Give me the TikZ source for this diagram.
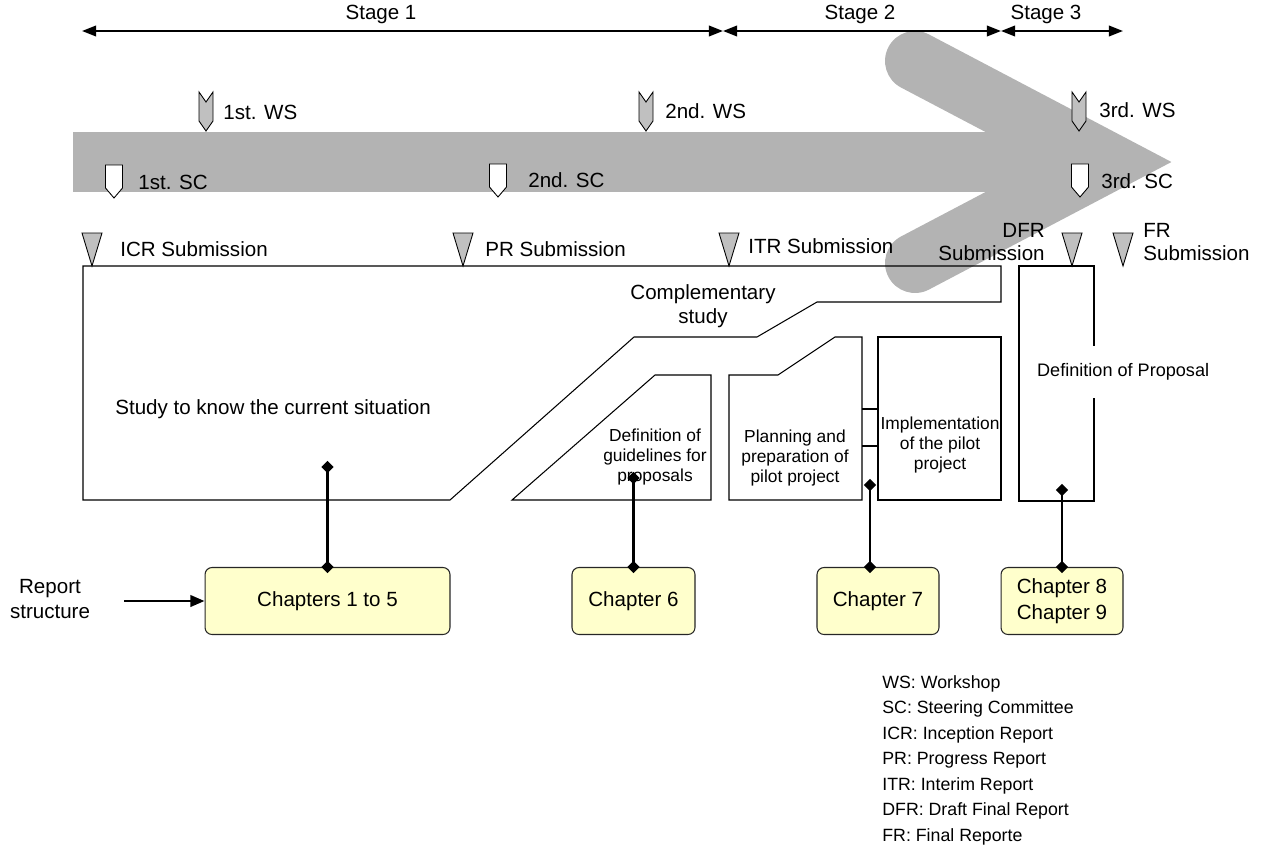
\documentclass[tikz,border=0pt]{standalone}
\usepackage{fontspec}
\setmainfont{Liberation Sans}
\usetikzlibrary{arrows.meta}
\definecolor{bandgrey}{HTML}{B3B3B3}
\definecolor{markgrey}{HTML}{C0C0C0}
\definecolor{chapfill}{HTML}{FFFFCC}

\begin{document}
\begin{tikzpicture}[x=0.02cm,y=-0.02cm,
  lbl/.style={inner sep=0pt, font=\fontsize{11.7}{13.6}\selectfont},
  boxtext/.style={inner sep=0pt, font=\fontsize{9.9}{11.4}\selectfont, align=center},
  outline/.style={draw=black, line width=0.6pt},
  chap/.style={draw=black!85, fill=chapfill, rounded corners=4pt, line width=0.6pt,
    inner sep=0pt, minimum height=1.34cm, font=\fontsize{11.7}{14.7}\selectfont, align=center},
  conn/.style={line width=1.4pt, shorten <=-3.5pt, shorten >=-3.5pt,
    {Turned Square[length=7pt,width=7pt]}-{Turned Square[length=7pt,width=7pt]}},
  stagearr/.style={line width=1.1pt, {Triangle[length=8pt,width=6pt]}-{Triangle[length=8pt,width=6pt]}},
  wsmark/.pic={\draw[fill=markgrey, line width=0.5pt] (-7,0) -- (0,10) -- (7,0) -- (7,29) -- (0,39) -- (-7,29) -- cycle;},
  scmark/.pic={\draw[fill=white, line width=0.5pt] (-8.5,0) -- (8.5,0) -- (8.5,23) -- (0,33) -- (-8.5,23) -- cycle;},
  submark/.pic={\draw[fill=markgrey, line width=0.5pt] (-10,-33) -- (10,-33) -- (0,0) -- cycle;},
  ]
\useasboundingbox (0,0) rectangle (1263,852);

% grey progress arrow in the background: shaft and chevron head
\fill[bandgrey] (73,132) rectangle (1060,192);
\draw[bandgrey, line width=1.2cm, line cap=round, line join=miter] (915,61) -- (1107,162) -- (915,263);

% stage spans
\coordinate (s0) at (82,31);
\coordinate (s1) at (723,31);
\coordinate (s2) at (1001,31);
\coordinate (s3) at (1123,31);
\draw[stagearr] (s0) -- (s1);
\draw[stagearr] (s1) -- (s2);
\draw[stagearr] (s2) -- (s3);
\node[lbl] (stg1) at (381,14) {Stage 1};
\node[lbl] (stg2) at (860,14) {Stage 2};
\node[lbl] (stg3) at (1046,14) {Stage 3};

% workshops
\pic at (206,92) {wsmark};
\pic at (646,92) {wsmark};
\pic at (1079,92) {wsmark};
\node[lbl, anchor=west] (ws1) at (223,112) {1st. WS};
\node[lbl, anchor=west] (ws2) at (665,111) {2nd. WS};
\node[lbl, anchor=west] (ws3) at (1099,110) {3rd. WS};

% steering committees
\pic at (114,165) {scmark};
\pic at (498,164) {scmark};
\pic at (1080,164) {scmark};
\node[lbl, anchor=west] (sc1) at (138,182) {1st. SC};
\node[lbl, anchor=west] (sc2) at (528,180) {2nd. SC};
\node[lbl, anchor=west] (sc3) at (1101,181) {3rd. SC};

% report submissions
\pic at (92,266) {submark};
\pic at (463,266) {submark};
\pic at (729,266) {submark};
\pic at (1072,266) {submark};
\pic at (1123,266) {submark};
\node[lbl, anchor=west] (icr) at (120,249) {ICR Submission};
\node[lbl, anchor=west] (pr) at (485,249) {PR Submission};
\node[lbl, anchor=west] (itr) at (748,246) {ITR Submission};
\node[lbl, anchor=east, align=right] (dfr) at (1045,242) {DFR\\Submission};
\node[lbl, anchor=west, align=left] (fr) at (1143,242) {FR\\Submission};

% activity blocks
\draw[outline] (83,266) -- (1001,266) -- (1001,302) -- (817,302) -- (757,337)
  -- (634,337) -- (450,500) -- (83,500) -- cycle;
\draw[outline] (512,500) -- (655,375) -- (711,375) -- (711,500) -- cycle;
\draw[outline] (729,500) -- (729,375) -- (778,375) -- (835,337) -- (862,337) -- (862,500) -- cycle;
\draw[outline] (878,337) rectangle (1001,500);
\draw[outline] (862,409) -- (878,409) (862,446) -- (878,446);
\draw[outline] (1019,266) rectangle (1094,501);

\node[lbl, anchor=west] (study) at (115,409) {Study to know the current situation};
\node[lbl, align=center] (comp) at (703,306) {Complementary\\study};
\node[boxtext] (guide) at (655,457) {Definition of\\guidelines for\\proposals};
\node[boxtext] (plan) at (795,458) {Planning and\\preparation of\\pilot project};
\node[boxtext] (impl) at (940,445) {Implementation\\of the pilot\\project};
\node[boxtext, anchor=west, fill=white, inner xsep=5pt, minimum height=1.04cm,
  font=\fontsize{10.3}{12}\selectfont] (prop) at (1028,372) {Definition of Proposal};

% report chapters
\node[chap, minimum width=4.9cm] (c15) at (327.5,601) {Chapters 1 to 5};
\node[chap, minimum width=2.46cm] (c6) at (633.5,601) {Chapter 6};
\node[chap, minimum width=2.44cm] (c7) at (878,601) {Chapter 7};
\node[chap, minimum width=2.44cm] (c89) at (1062,601) {Chapter 8\\Chapter 9};

\coordinate (a15) at (327.5,467);
\coordinate (a6) at (633.5,478);
\coordinate (a7) at (870,485);
\coordinate (a89) at (1062,490);
\draw[conn] (a15) -- (a15 |- c15.north);
\draw[conn] (a6) -- (a6 |- c6.north);
\draw[conn] (a7) -- (a7 |- c7.north);
\draw[conn] (a89) -- (a89 |- c89.north);

\node[lbl, align=center, font=\fontsize{11.7}{14.7}\selectfont] (rep) at (50,599) {Report\\structure};
\coordinate (ra) at (124,601);
\draw[line width=1.4pt, -{Triangle[length=8pt,width=6.5pt]}] (ra) -- (c15.west);

% abbreviations
\node[anchor=north west, inner sep=0pt, align=left, font=\fontsize{10.1}{14.5}\selectfont] (legend) at (882,675)
  {WS: Workshop\\SC: Steering Committee\\ICR: Inception Report\\PR: Progress Report\\ITR: Interim Report\\DFR: Draft Final Report\\FR: Final Reporte};
\end{tikzpicture}
\end{document}
